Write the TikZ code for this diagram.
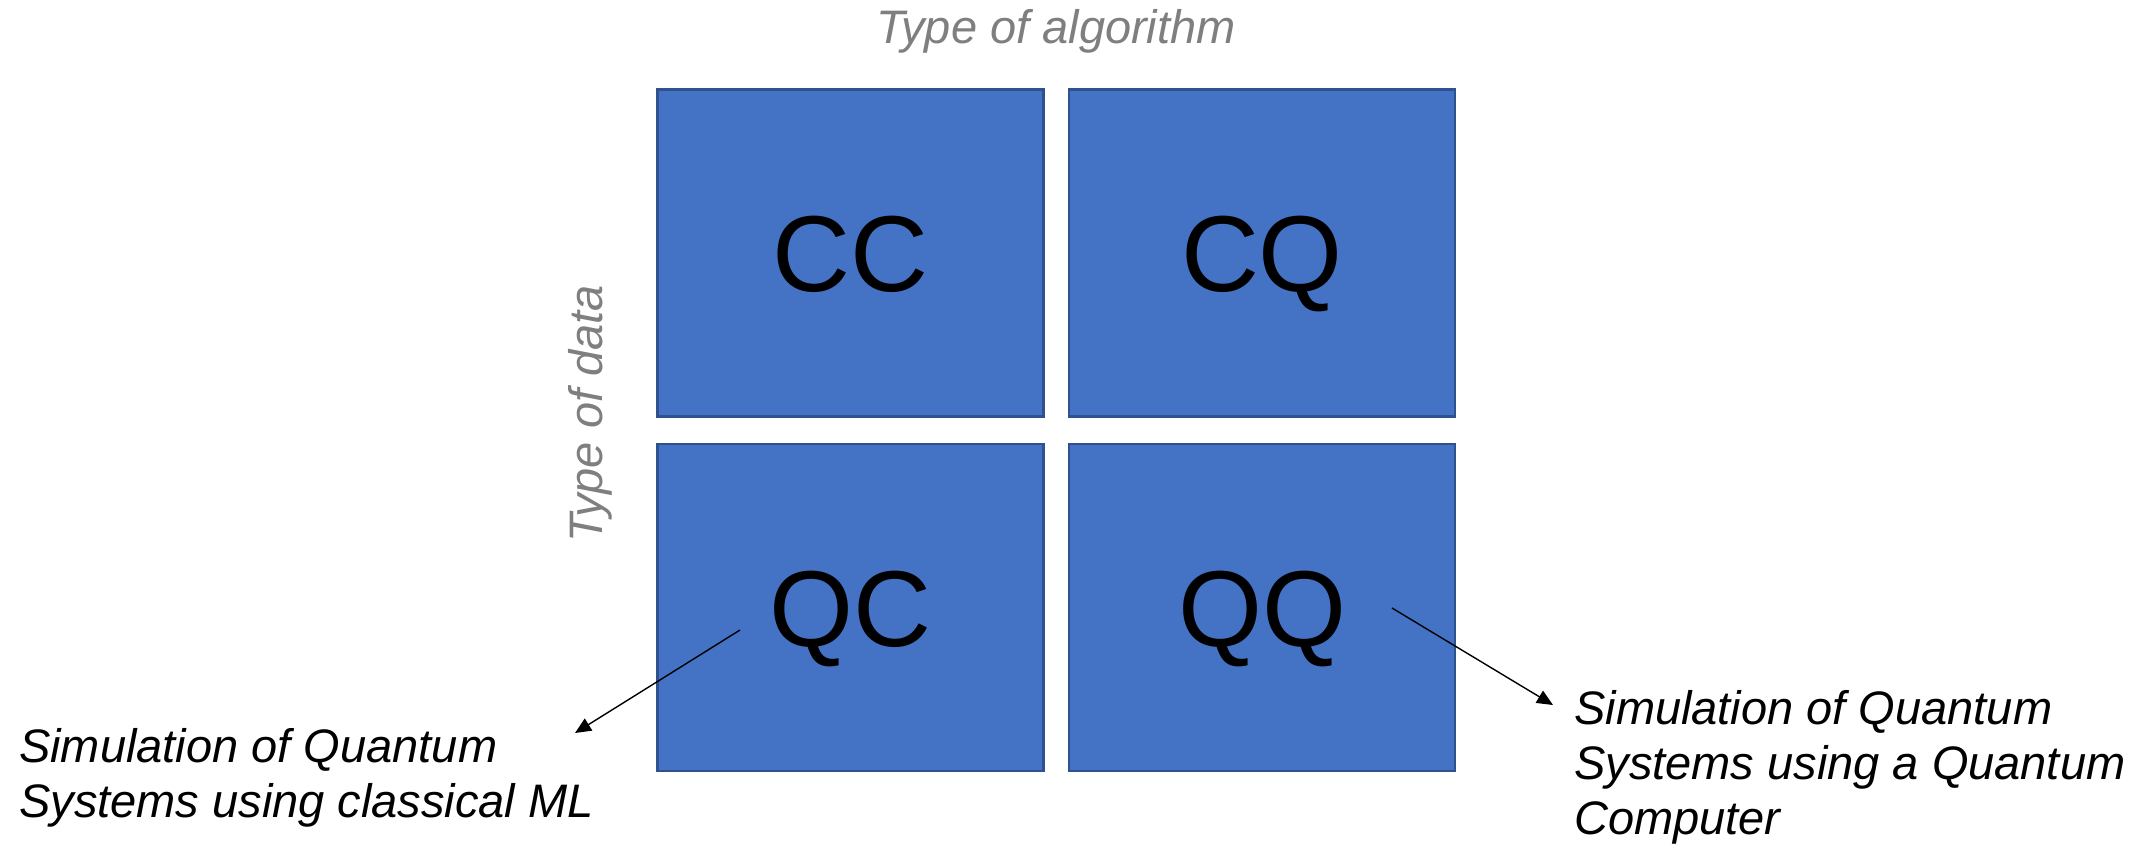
\documentclass[tikz,border=0pt]{standalone}
\usepackage{fontspec}
\setmainfont{Liberation Sans}
\usetikzlibrary{arrows.meta}
\definecolor{boxfill}{HTML}{4472C4}
\definecolor{boxline}{HTML}{2F528F}
\definecolor{axisgray}{HTML}{7F7F7F}
\begin{document}
\begin{tikzpicture}[x=1pt,y=-1pt,
  quad/.style={draw=boxline, fill=boxfill, line width=2.5pt, minimum width=386pt, minimum height=327pt, inner sep=0pt,
    font=\fontsize{108}{130}\selectfont, text=black, text height=77pt, text depth=0pt},
  axislabel/.style={font=\fontsize{47}{55}\selectfont\itshape, text=axisgray, inner sep=0pt},
  note/.style={font=\fontsize{47}{55}\selectfont\itshape, text=black, inner sep=0pt, align=left},
  pointer/.style={draw=black, line width=1.4pt, -{Triangle[length=16pt,width=14pt]}}]
\useasboundingbox (0,0) rectangle (2149,847);
\node[quad] (cc) at (850.5,253) {CC};
\node[quad] (cq) at (1262,253) {CQ};
\node[quad] (qc) at (850.5,607.5) {QC};
\node[quad] (qq) at (1262,607.5) {QQ};
\node[axislabel, anchor=base] (alg) at (1056,43) {Type of algorithm};
\node[axislabel, anchor=base, rotate=90] (dat) at (602,414) {Type of data};
\node[note, anchor=north west] (left) at (19,728) {Simulation of Quantum\\Systems using classical ML};
\node[note, anchor=north west] (right) at (1574,690) {Simulation of Quantum\\Systems using a Quantum\\Computer};
\coordinate (qcs) at (740,630);
\coordinate (qct) at (575,733);
\coordinate (qqs) at (1392,608);
\coordinate (qqt) at (1553,705);
\draw[pointer] (qcs) -- (qct);
\draw[pointer] (qqs) -- (qqt);
\end{tikzpicture}
\end{document}
